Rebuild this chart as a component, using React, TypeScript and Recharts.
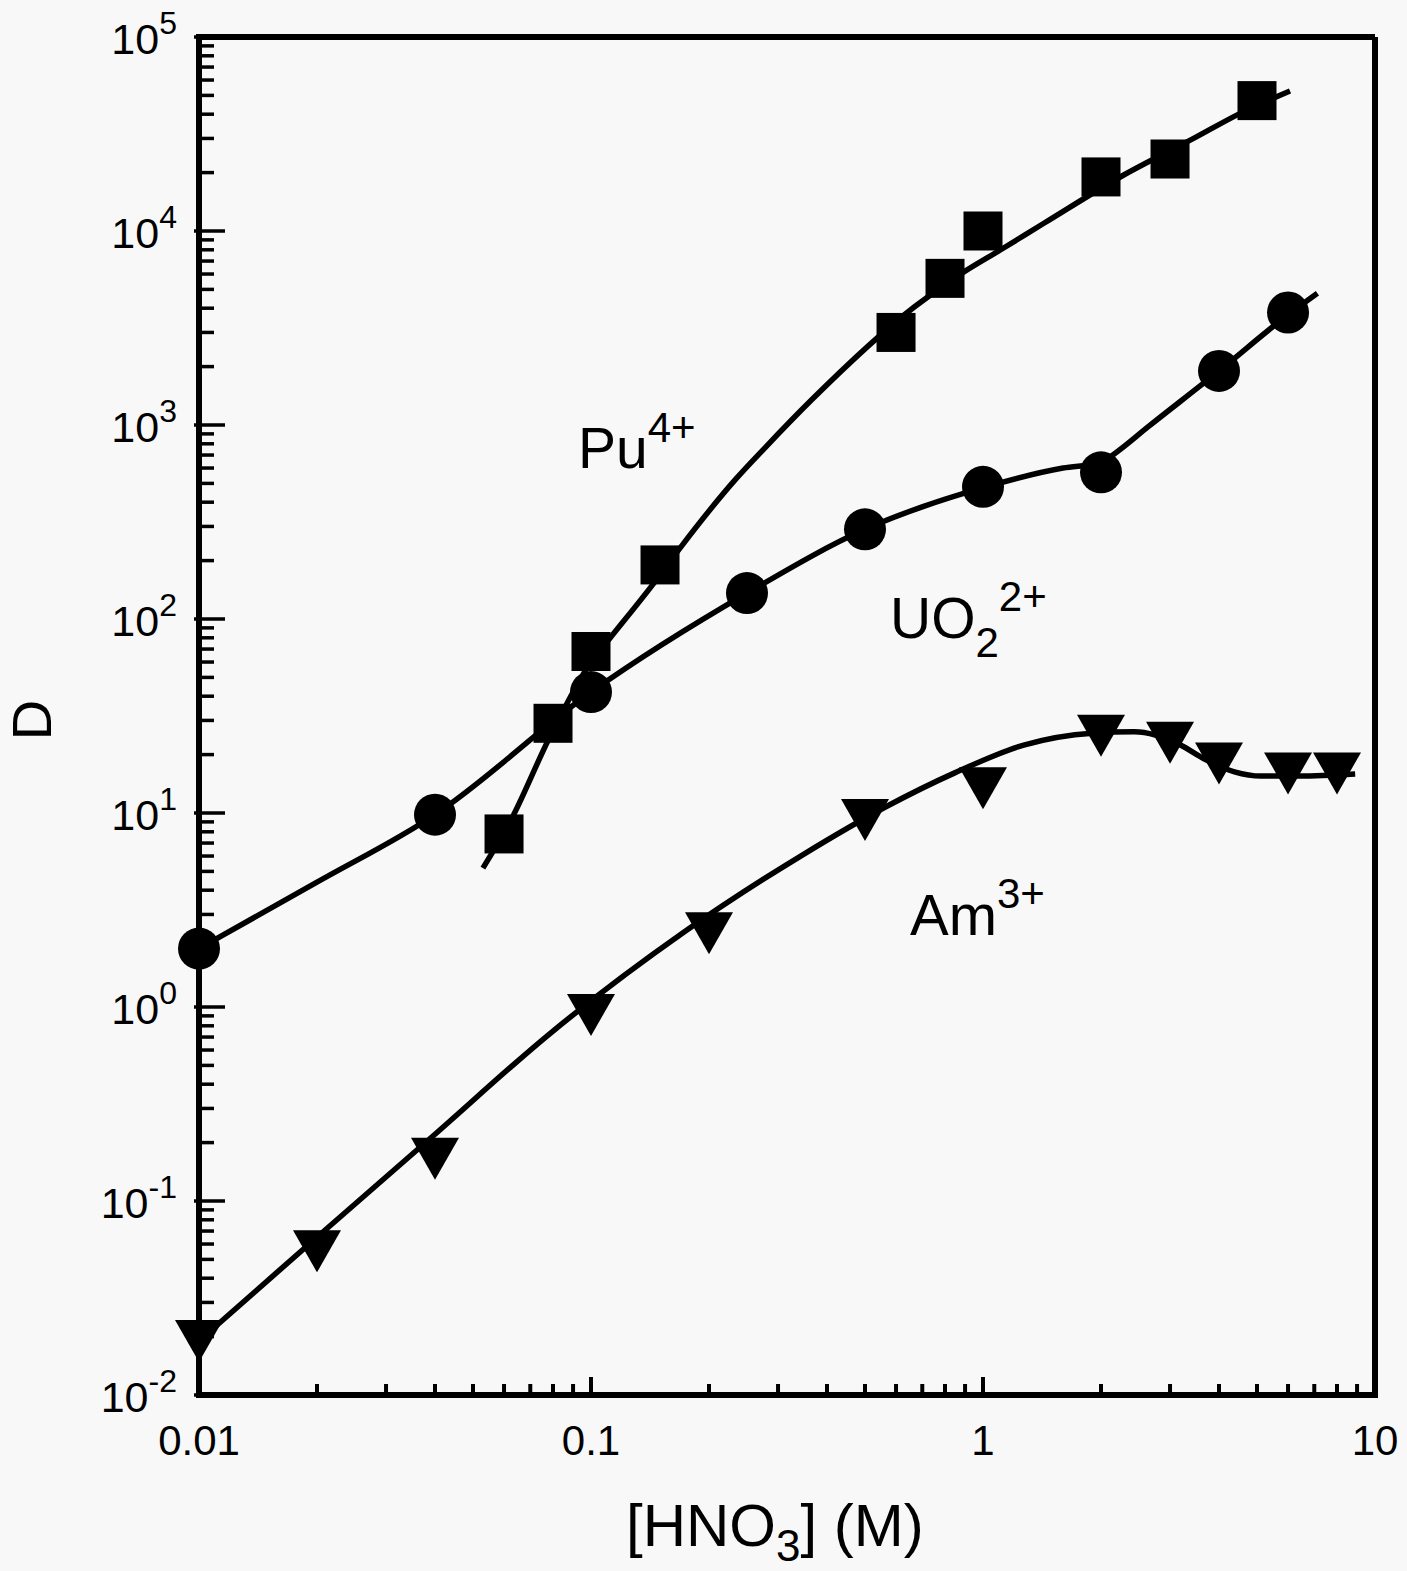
import { ComposedChart, XAxis, YAxis, Line, Scatter, ReferenceLine } from "recharts";

const W = 1407;
const H = 1571;
const FONT = '"Liberation Sans", Arial, Helvetica, sans-serif';
const INK = "#000";
const PAPER = "#f8f8f8";

if (typeof document !== "undefined") {
  document.body.style.margin = "0";
  document.body.style.background = PAPER;
}

// axes
const xMajorTicks = [0.01, 0.1, 1, 10];
const xTickLabels = ["0.01", "0.1", "1", "10"];
const yMajorTicks = [0.01, 0.1, 1, 10, 100, 1000, 10000, 100000];
const yExpLabels = ["-2", "-1", "0", "1", "2", "3", "4", "5"];
const minorSteps = [2, 3, 4, 5, 6, 7, 8, 9];

// Pu4+ measured (squares)
const puX = [0.06, 0.08, 0.1, 0.15, 0.6, 0.8, 1.0, 2.0, 3.0, 5.0];
const puD = [7.8, 29, 68, 190, 3000, 5700, 10000, 19000, 23500, 47000];
// Pu4+ drawn curve
const puFitX = [0.053, 0.063, 0.078, 0.1, 0.112, 0.145, 0.17, 0.234, 0.279, 0.365, 0.669, 0.896, 1.107, 1.43, 2.286, 3.445, 4.53, 6.07];
const puFitD = [5.2, 9.5, 24, 60, 80, 154, 237, 526, 770, 1345, 4070, 6170, 7980, 10960, 19440, 30000, 40400, 52700];

// UO2 2+ measured (circles)
const uoX = [0.01, 0.04, 0.1, 0.25, 0.5, 1.0, 2.0, 4.0, 6.0];
const uoD = [2.0, 9.8, 42, 136, 290, 480, 570, 1900, 3800];
const uoFitX = [0.01, 0.02, 0.04, 0.1, 0.25, 0.5, 1.0, 1.6, 2.0, 2.17, 2.64, 4.0, 6.0, 7.13];
const uoFitD = [2.0, 4.4, 9.8, 42, 136, 290, 475, 600, 640, 714, 980, 1900, 3700, 4780];

// Am3+ measured (down triangles)
const amX = [0.01, 0.02, 0.04, 0.1, 0.2, 0.5, 1.0, 2.0, 3.0, 4.0, 6.0, 8.0];
const amD = [0.019, 0.055, 0.165, 0.91, 2.4, 9.2, 13.4, 25, 23, 18, 16, 16];
const amFitX = [0.01, 0.0205, 0.0394, 0.0786, 0.171, 0.346, 0.567, 0.847, 1.27, 1.9, 2.43, 3.19, 3.65, 4.38, 5.12, 6.42, 8.9];
const amFitD = [0.019, 0.068, 0.215, 0.73, 2.4, 6.07, 10.8, 16.1, 22.4, 25.8, 26.2, 22.4, 19.1, 16.3, 15.5, 15.5, 15.9];

const toPts = (xs: number[], ys: number[]) => xs.map((x, i) => ({ x, y: ys[i] }));

const xTicks = [...xMajorTicks, ...xMajorTicks.slice(0, -1).flatMap((d) => minorSteps.map((m) => m * d))];
const yTicks = [...yMajorTicks, ...yMajorTicks.slice(0, -1).flatMap((d) => minorSteps.map((m) => m * d))];

function XTick(props: any) {
  const { x, y, payload } = props;
  const idx = xMajorTicks.indexOf(payload.value);
  const major = idx >= 0;
  return (
    <g>
      <line x1={x} x2={x} y1={y} y2={y - (major ? 18 : 11)} stroke={INK} strokeWidth={4} />
      {major && (
        <text x={x} y={y + 60} textAnchor="middle" fontSize={42} fontFamily={FONT} fill={INK}>
          {xTickLabels[idx]}
        </text>
      )}
    </g>
  );
}

function YTick(props: any) {
  const { x, y, payload } = props;
  const idx = yMajorTicks.indexOf(payload.value);
  const major = idx >= 0;
  return (
    <g>
      <line x1={major ? x - 5 : x} x2={x + (major ? 26 : 15)} y1={y} y2={y} stroke={INK} strokeWidth={3.5} />
      {major && (
        <text x={x - 22} y={y + 17} textAnchor="end" fontSize={43} fontFamily={FONT} fill={INK}>
          10
          <tspan dy={-20} fontSize={32}>
            {yExpLabels[idx]}
          </tspan>
        </text>
      )}
    </g>
  );
}

const Square = (p: any) => <rect x={p.cx - 19.5} y={p.cy - 19.5} width={39} height={39} fill={INK} />;
const Dot = (p: any) => <circle cx={p.cx} cy={p.cy} r={21} fill={INK} />;
const DownTri = (p: any) => (
  <polygon
    points={`${p.cx - 24},${p.cy - 21} ${p.cx + 24},${p.cy - 21} ${p.cx},${p.cy + 21}`}
    fill={INK}
  />
);

export default function App() {
  const lineProps = {
    dataKey: "y",
    type: "monotone" as const,
    stroke: INK,
    strokeWidth: 5.5,
    dot: false,
    activeDot: false,
    isAnimationActive: false,
  };
  return (
    <div style={{ position: "relative", width: W, height: H, background: PAPER }}>
      <ComposedChart width={W} height={H} margin={{ top: 37, right: 32, bottom: 0, left: 0 }}>
        <XAxis
          dataKey="x"
          type="number"
          scale="log"
          domain={[0.01, 10]}
          ticks={xTicks}
          interval={0}
          tick={(p: any) => <XTick {...p} />}
          tickLine={false}
          tickSize={0}
          tickMargin={0}
          height={176}
          axisLine={{ stroke: INK, strokeWidth: 6, strokeLinecap: "square" }}
        />
        <YAxis
          dataKey="y"
          type="number"
          scale="log"
          domain={[0.01, 100000]}
          ticks={yTicks}
          interval={0}
          tick={(p: any) => <YTick {...p} />}
          tickLine={false}
          tickSize={0}
          tickMargin={0}
          width={199}
          axisLine={{ stroke: INK, strokeWidth: 6, strokeLinecap: "square" }}
        />
        <ReferenceLine y={100000} stroke={INK} strokeWidth={6} />
        <ReferenceLine x={10} stroke={INK} strokeWidth={6} />
        <Line data={toPts(puFitX, puFitD)} {...lineProps} />
        <Line data={toPts(uoFitX, uoFitD)} {...lineProps} />
        <Line data={toPts(amFitX, amFitD)} {...lineProps} />
        <Scatter data={toPts(puX, puD)} dataKey="y" shape={Square} isAnimationActive={false} />
        <Scatter data={toPts(uoX, uoD)} dataKey="y" shape={Dot} isAnimationActive={false} />
        <Scatter data={toPts(amX, amD)} dataKey="y" shape={DownTri} isAnimationActive={false} />
      </ComposedChart>
      <svg
        width={W}
        height={H}
        style={{ position: "absolute", left: 0, top: 0, pointerEvents: "none" }}
        fontFamily={FONT}
        fill={INK}
      >
        <text x={578} y={468} fontSize={57}>
          Pu<tspan dy={-26} fontSize={42}>4+</tspan>
        </text>
        <text x={890} y={638} fontSize={57}>
          UO<tspan dy={19} fontSize={42}>2</tspan>
          <tspan dy={-46} fontSize={42}>2+</tspan>
        </text>
        <text x={910} y={935} fontSize={58}>
          Am<tspan dy={-27} fontSize={42}>3+</tspan>
        </text>
        <text x={626} y={1546} fontSize={60}>
          [HNO<tspan dy={15} fontSize={44}>3</tspan>
          <tspan dy={-15}>] (M)</tspan>
        </text>
        <text transform="translate(51,720) rotate(-90)" textAnchor="middle" fontSize={56}>
          D
        </text>
      </svg>
    </div>
  );
}
